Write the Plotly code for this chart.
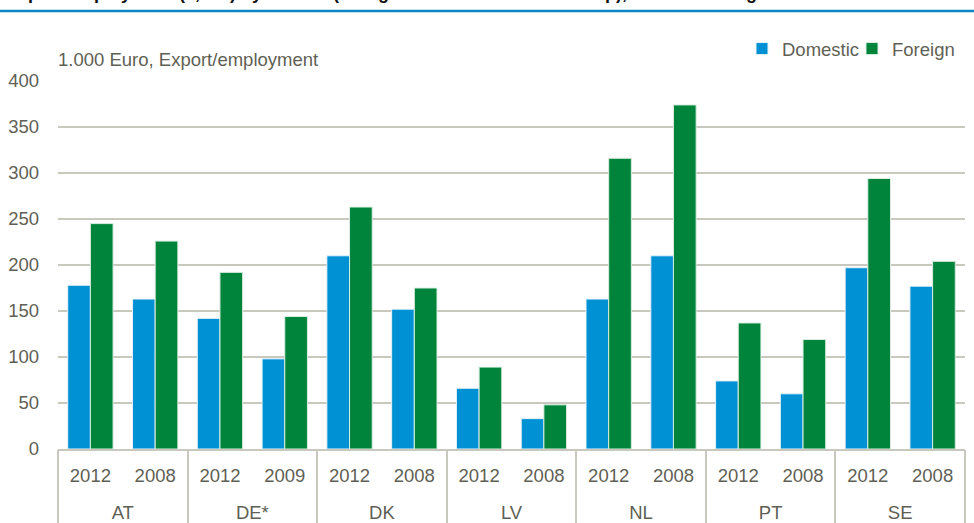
import plotly.graph_objects as go

# Export per employee (1,000 EUR) by ownership of the firm
countries = ["AT", "DE*", "DK", "LV", "NL", "PT", "SE"]
years = ["2012", "2008", "2012", "2009", "2012", "2008", "2012", "2008",
         "2012", "2008", "2012", "2008", "2012", "2008"]
domestic = [178, 163, 142, 98, 210, 152, 66, 33, 163, 210, 74, 60, 197, 177]
foreign = [245, 226, 192, 144, 263, 175, 89, 48, 316, 374, 137, 119, 294, 204]
y_ticks = [0, 50, 100, 150, 200, 250, 300, 350, 400]

title_text = ("Export/employment (1,000) by control (foreign and domestic "
              "ownership), manufacturing 2012 and 2008")
unit_text = "1.000 Euro, Export/employment"

BLUE = "#0091d5"
GREEN = "#00843b"
TEXT = "#5f5f55"
GRID = "#c8c8bf"
FONT = "Liberation Sans, Arial, sans-serif"
FS = 18.5

W, H = 974, 523
ML, MR, MT, MB = 58, 9, 81, 73.5
plot_h = H - MT - MB
plot_w = W - ML - MR

# one slot per (country, year) bar pair; each country owns two slots
n_slots = len(years)
slot_pos = list(range(n_slots))
per_country = n_slots // len(countries)
country_centres = [i * per_country + (per_country - 1) / 2
                   for i in range(len(countries))]
country_edges = [i * per_country - 0.5 for i in range(len(countries) + 1)]
x_range = [-0.5, n_slots - 0.5]


def py(px):
    """Convert a pixel row (from the top of the page) to paper y."""
    return 1 + (MT - px) / plot_h


def px_(x):
    """Convert a pixel column to paper x."""
    return (x - ML) / plot_w


fig = go.Figure()
fig.add_trace(go.Bar(
    name="Domestic", x=slot_pos, y=domestic,
    marker=dict(color=BLUE, line=dict(color="#e6f3fa", width=1)),
))
fig.add_trace(go.Bar(
    name="Foreign", x=slot_pos, y=foreign,
    marker=dict(color=GREEN, line=dict(color="#d9eee0", width=1)),
))
# empty carrier so the country-level axis gets drawn
fig.add_trace(go.Scatter(
    x=[], y=[], xaxis="x2", yaxis="y", showlegend=False, hoverinfo="skip",
))

fig.update_layout(
    width=W, height=H,
    margin=dict(l=ML, r=MR, t=MT, b=MB, pad=0, autoexpand=False),
    paper_bgcolor="white", plot_bgcolor="white",
    barmode="group", bargap=0.3, bargroupgap=0.0,
    font=dict(family=FONT, size=FS, color=TEXT),
    showlegend=True,
    legend=dict(
        orientation="h", x=px_(742), xanchor="left", y=py(49),
        yanchor="middle", font=dict(size=FS, color=TEXT), itemwidth=30,
        traceorder="normal", bgcolor="rgba(0,0,0,0)",
        entrywidth=65, entrywidthmode="pixels",
    ),
    # year level of the category axis
    xaxis=dict(
        range=x_range, tickmode="array", tickvals=slot_pos, ticktext=years,
        showgrid=False, ticks="", zeroline=False,
        showline=True, linecolor=GRID, linewidth=1.5,
        ticklabelstandoff=9, tickfont=dict(size=FS, color=TEXT),
    ),
    # country level with group dividers
    xaxis2=dict(
        range=x_range, overlaying="x", anchor="y", side="bottom",
        tickmode="array", tickvals=country_centres, ticktext=countries,
        showgrid=False, ticks="", showline=False, zeroline=False,
        ticklabelstandoff=50, tickfont=dict(size=FS, color=TEXT),
        minor=dict(tickmode="array", tickvals=country_edges, ticks="outside",
                   ticklen=80, tickwidth=1.5, tickcolor=GRID, showgrid=False),
    ),
    yaxis=dict(
        range=[0, 400], tickvals=y_ticks, showgrid=True, gridcolor=GRID,
        gridwidth=1.5, zeroline=False, showline=False, ticks="",
        ticklabelstandoff=18, tickfont=dict(size=FS, color=TEXT),
    ),
)

# Heading (runs off the top of the page) and its blue rule
fig.add_annotation(
    text="<b>" + title_text + "</b>", xref="paper", yref="paper",
    x=px_(4), y=py(5.3), xanchor="left", yanchor="bottom", showarrow=False,
    font=dict(family="Liberation Sans, Arial, sans-serif", size=18,
              color="#111111"),
)
fig.add_shape(
    type="line", xref="paper", yref="paper", x0=px_(0), x1=px_(W),
    y0=py(11), y1=py(11), line=dict(color="#0a88c8", width=2.5),
)

# Unit label above the value axis
fig.add_annotation(
    text=unit_text, xref="paper", yref="paper", x=px_(56), y=py(59),
    xanchor="left", yanchor="middle", showarrow=False,
    font=dict(size=FS, color=TEXT),
)

fig.write_html("out.html")
